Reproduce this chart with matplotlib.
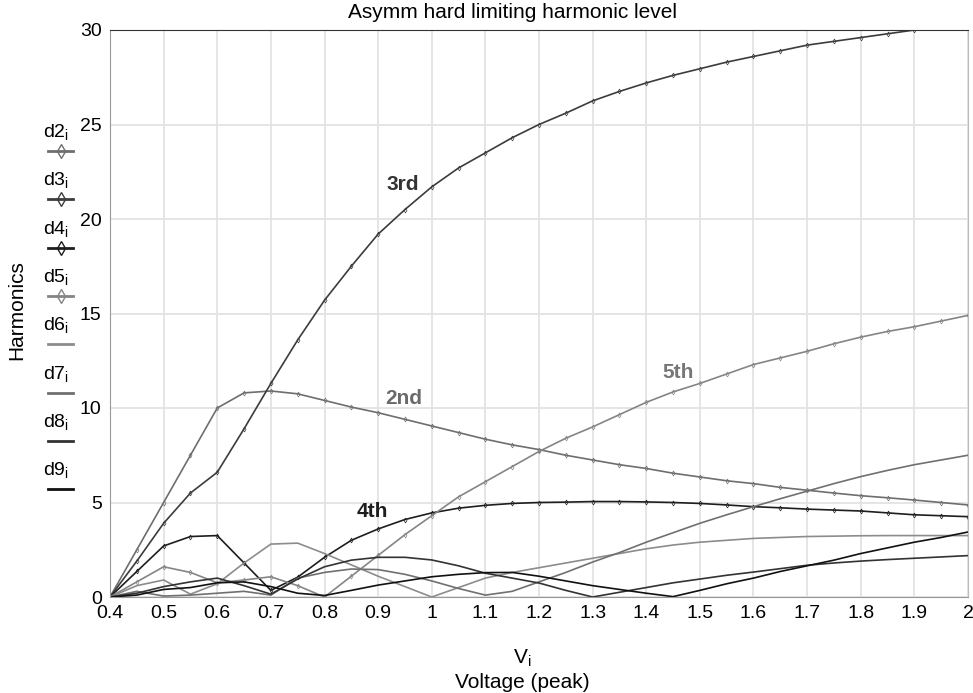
import numpy as np
import matplotlib
matplotlib.use('Agg')
from matplotlib import pyplot as plt
from matplotlib.lines import Line2D

plt.rcParams['font.family'] = ['Liberation Sans', 'DejaVu Sans']
plt.rcParams['mathtext.fontset'] = 'custom'
plt.rcParams['mathtext.rm'] = 'Liberation Sans'

# input peak voltage, sampled every 0.05
vi = np.round(np.arange(0.40, 2.001, 0.05), 2)

d2 = [0, 2.5, 5.0, 7.5, 10.0, 10.8, 10.9, 10.75, 10.4, 10.05, 9.75, 9.4, 9.05, 8.7, 8.35, 8.05,
      7.8, 7.5, 7.25, 7.0, 6.8, 6.55, 6.35, 6.15, 6.0, 5.8, 5.65, 5.5, 5.36, 5.25, 5.13, 5.0, 4.87]
d3 = [0, 1.9, 3.9, 5.5, 6.6, 8.9, 11.3, 13.6, 15.7, 17.5, 19.2, 20.5, 21.7, 22.7, 23.5, 24.3,
      25.0, 25.6, 26.25, 26.75, 27.2, 27.6, 27.95, 28.3, 28.6, 28.9, 29.2, 29.4, 29.6, 29.8, 30.0, 30.2, 30.4]
d4 = [0, 1.35, 2.7, 3.2, 3.25, 1.8, 0.35, 1.05, 2.1, 3.0, 3.6, 4.1, 4.45, 4.7, 4.85, 4.95,
      5.0, 5.02, 5.05, 5.05, 5.03, 5.0, 4.95, 4.87, 4.78, 4.72, 4.65, 4.6, 4.55, 4.45, 4.35, 4.3, 4.25]
d5 = [0, 0.8, 1.6, 1.3, 0.75, 0.9, 1.07, 0.6, 0, 1.1, 2.2, 3.3, 4.3, 5.3, 6.1, 6.9,
      7.7, 8.4, 9.0, 9.65, 10.3, 10.85, 11.3, 11.8, 12.3, 12.65, 13.0, 13.4, 13.75, 14.05, 14.3, 14.6, 14.9]
d6 = [0, 0.6, 0.9, 0.15, 0.7, 1.8, 2.8, 2.85, 2.3, 1.7, 1.1, 0.55, 0.0, 0.5, 1.0, 1.3,
      1.55, 1.8, 2.05, 2.3, 2.55, 2.75, 2.9, 3.0, 3.1, 3.15, 3.2, 3.22, 3.24, 3.25, 3.25, 3.25, 3.25]
d7 = [0, 0.3, 0.05, 0.1, 0.2, 0.3, 0.1, 1.0, 1.3, 1.48, 1.45, 1.2, 0.85, 0.45, 0.1, 0.3,
      0.8, 1.3, 1.85, 2.35, 2.9, 3.4, 3.9, 4.35, 4.78, 5.2, 5.6, 6.0, 6.37, 6.7, 7.0, 7.25, 7.5]
d8 = [0, 0.2, 0.55, 0.8, 1.0, 0.6, 0.15, 0.95, 1.6, 1.95, 2.1, 2.1, 1.96, 1.65, 1.26, 1.0,
      0.74, 0.35, 0.0, 0.25, 0.5, 0.75, 0.95, 1.15, 1.32, 1.5, 1.68, 1.8, 1.9, 1.98, 2.05, 2.12, 2.19]
d9 = [0, 0.1, 0.4, 0.5, 0.75, 0.8, 0.55, 0.2, 0.08, 0.35, 0.63, 0.85, 1.07, 1.2, 1.29, 1.3,
      1.1, 0.85, 0.6, 0.4, 0.2, 0.02, 0.35, 0.7, 1.0, 1.35, 1.65, 1.95, 2.3, 2.6, 2.9, 3.15, 3.44]

names = ['d2', 'd3', 'd4', 'd5', 'd6', 'd7', 'd8', 'd9']
series = [d2, d3, d4, d5, d6, d7, d8, d9]
colors = ['#6e6e6e', '#3c3c3c', '#1e1e1e', '#858585', '#8c8c8c', '#707070', '#333333', '#111111']
marked = [True, True, True, True, False, False, False, False]

fig = plt.figure(figsize=(9.73, 6.93), dpi=100)
ax = fig.add_axes([110/973, 1 - 597/693, (968 - 110)/973, (597 - 30)/693])

for ys, c, m in zip(series, colors, marked):
    if m:
        ax.plot(vi, ys, color=c, lw=1.2, marker='d', ms=2.5, mfc='none', mew=0.5)
    else:
        ax.plot(vi, ys, color=c, lw=1.2)

ax.set_xlim(0.4, 2.0)
ax.set_ylim(0, 30)
xt = np.round(np.arange(0.4, 2.001, 0.1), 1)
ax.set_xticks(xt)
ax.set_xticklabels([f'{t:g}' for t in xt])
ax.set_yticks(np.arange(0, 31, 5))
ax.tick_params(length=0, labelsize=14, pad=6)
ax.grid(True, color='#e3e3e3', lw=1.3)
ax.set_axisbelow(True)
ax.spines['top'].set_color('#333333')
ax.spines['left'].set_color('#999999')
ax.spines['bottom'].set_color('#999999')
ax.spines['right'].set_color('#bbbbbb')

# curve labels
lab = dict(fontsize=15, fontweight='bold', ha='center', va='center')
ax.text(0.945, 21.8, '3rd', color='#333333', **lab)
ax.text(0.947, 10.5, '2nd', color='#6a6a6a', **lab)
ax.text(0.889, 4.55, '4th', color='#1e1e1e', **lab)
ax.text(1.46, 11.9, '5th', color='#777777', **lab)

# legend column in the left margin
W, H = 973, 693
for k, (n, c, m) in enumerate(zip(names, colors, marked)):
    ty = 133 + k * 48.3
    ly = ty + 18
    fig.text(43 / W, 1 - ty / H, n + r'$_\mathregular{i}$', fontsize=14, va='center', ha='left')
    fig.add_artist(Line2D([48 / W, 73 / W], [1 - ly / H, 1 - ly / H], color=c, lw=2))
    if m:
        fig.add_artist(Line2D([60.5 / W], [1 - ly / H], color=c, marker='d', ms=7,
                              mfc='none', mew=1, lw=0))

fig.text(17 / W, 1 - 310 / H, 'Harmonics', rotation=90, fontsize=15, ha='center', va='center')
fig.text(512 / W, 1 - 12 / H, 'Asymm hard limiting harmonic level', fontsize=15, ha='center', va='center')
fig.text(522 / W, 1 - 658 / H, r'V$_\mathregular{i}$', fontsize=15, ha='center', va='center')
fig.text(522 / W, 1 - 683 / H, 'Voltage (peak)', fontsize=15, ha='center', va='center')

fig.savefig('out.png', dpi=100)
